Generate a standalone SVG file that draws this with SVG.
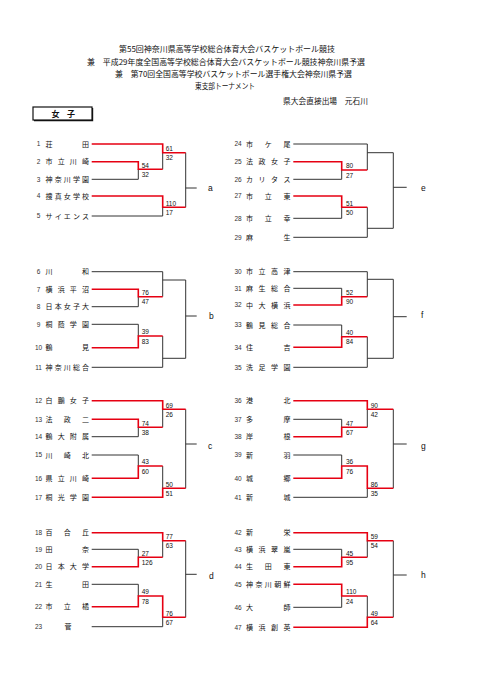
<svg xmlns="http://www.w3.org/2000/svg" width="481" height="680" viewBox="0 0 481 680">
<style>
.hd{font-family:"Noto Sans CJK JP",sans-serif;font-size:8px;fill:#111}
.nm{font-family:"Noto Sans CJK JP",sans-serif;font-size:7px;fill:#111}
.no{font-family:"Liberation Sans",sans-serif;font-size:6.5px;fill:#333;text-anchor:middle}
.sc{font-family:"Liberation Sans",sans-serif;font-size:6.5px;fill:#111}
.lb{font-family:"Liberation Sans",sans-serif;font-size:8.5px;fill:#111}
.ln{fill:none;stroke:#333;stroke-width:1}
.rd{fill:none;stroke:#e60012;stroke-width:1.6}
</style>
<rect width="481" height="680" fill="#fff"/>
<g id="header">
<text class="hd" x="119" y="52" textLength="216" lengthAdjust="spacingAndGlyphs">第55回神奈川県高等学校総合体育大会バスケットボール競技</text>
<text class="hd" x="87" y="65" textLength="278" lengthAdjust="spacingAndGlyphs">兼　平成29年度全国高等学校総合体育大会バスケットボール競技神奈川県予選</text>
<text class="hd" x="115" y="77" textLength="237" lengthAdjust="spacingAndGlyphs">兼　第70回全国高等学校バスケットボール選手権大会神奈川県予選</text>
<text class="hd" x="195" y="89" textLength="60" lengthAdjust="spacingAndGlyphs">東支部トーナメント</text>
<text class="hd" x="283" y="104" textLength="85" lengthAdjust="spacingAndGlyphs">県大会直接出場　元石川</text>
</g>
<g id="category">
<rect x="33" y="107" width="59" height="13" fill="#fff" stroke="#111" stroke-width="1.2"/>
<path d="M34 120.6H92.6V108" fill="none" stroke="#111" stroke-width="1.2"/>
<text class="hd" x="51.5 67" y="116.6" font-weight="bold">女子</text>
</g>
<g id="connectors">
<path class="ln" d="M91.7 179.3H138.3M138.3 169.3V179.3M162.7 152.7V169.3M91.7 216H162.7M162.7 207.3V216M185.7 152.7V207.3M185.7 188H196.7"/>
<path class="rd" d="M91.7 144H162.7V152.7H185.7M91.7 161.7H138.3V169.3H162.7M91.7 196H162.7V207.3H185.7"/>
<path class="ln" d="M293.3 144H367.3V170M367.3 152.7H393.3M293.3 179.3H341.7V170M293.3 218.3H341.7V207.3M293.3 237.3H367.3V207.3M367.3 228.3H393.3M393.3 152.7V228.3M393.3 187.3H406.7"/>
<path class="rd" d="M293.3 161.7H341.7V170H367.3M293.3 196H341.7V207.3H367.3"/>
<path class="ln" d="M91.7 271.7H162.7V296.7M162.7 280H185.7M91.7 306.7H138.3V296.7M91.7 324.3H138.3V336M91.7 367.3H162.7V336M162.7 358.3H185.7M185.7 280V358.3M185.7 316H196.7"/>
<path class="rd" d="M91.7 289.3H138.3V296.7H162.7M91.7 347.7H138.3V336H162.7"/>
<path class="ln" d="M293.3 271.7H367.3V296.7M367.3 279.3H393.3M293.3 288.3H341.7V296.7M293.3 325H341.7V336.7M293.3 367.3H367.3V336.7M367.3 358.3H393.3M393.3 279.3V358.3M393.3 316.7H406.7"/>
<path class="rd" d="M293.3 305H341.7V296.7H367.3M293.3 347.3H341.7V336.7H367.3"/>
<path class="ln" d="M162.7 409.3V427.3M91.7 436.7H138.3V427.3M91.7 455H138.3V466M162.7 466V488.3M185.7 409.3V488.3M185.7 444H196.7"/>
<path class="rd" d="M91.7 400.7H162.7V409.3H185.7M91.7 419.3H138.3V427.3H162.7M91.7 478.3H138.3V466H162.7M91.7 497.3H162.7V488.3H185.7"/>
<path class="ln" d="M293.3 419.3H341.7V427.3M367.3 409.3V427.3M293.3 455H341.7V466M293.3 497.3H367.3V488.3M393.3 409.3V488.3M393.3 444H406.7"/>
<path class="rd" d="M293.3 400.7H367.3V409.3H393.3M293.3 436.7H341.7V427.3H367.3M293.3 478.3H341.7V466H367.3V488.3H393.3"/>
<path class="ln" d="M91.7 549.3H138.3V557.3M162.7 540.7V557.3M91.7 584.3H138.3V596M91.7 626.7H162.7V617.3M185.7 540.7V617.3M185.7 574.3H196.7"/>
<path class="rd" d="M91.7 532.7H162.7V540.7H185.7M91.7 566.7H138.3V557.3H162.7M91.7 606.7H138.3V596H162.7V617.3H185.7"/>
<path class="ln" d="M293.3 549.3H341.7V557.3M367.3 540.7V557.3M293.3 607.3H341.7V596M367.3 596V617.3M393.3 540.7V617.3M393.3 575H406.7"/>
<path class="rd" d="M293.3 532.7H367.3V540.7H393.3M293.3 566.7H341.7V557.3H367.3M293.3 584.3H341.7V596H367.3M293.3 627.3H367.3V617.3H393.3"/>
</g>
<g id="scores">
<text class="sc" x="141.7" y="167.5">54</text><text class="sc" x="141.7" y="176.8">32</text>
<text class="sc" x="165.7" y="150.9">61</text><text class="sc" x="165.7" y="160.2">32</text>
<text class="sc" x="165.7" y="205.5">110</text><text class="sc" x="165.7" y="214.8">17</text>
<text class="sc" x="346" y="168.2">80</text><text class="sc" x="346" y="177.5">27</text>
<text class="sc" x="346" y="205.5">51</text><text class="sc" x="346" y="214.8">50</text>
<text class="sc" x="141.7" y="294.9">76</text><text class="sc" x="141.7" y="304.2">47</text>
<text class="sc" x="141.7" y="334.2">39</text><text class="sc" x="141.7" y="343.5">83</text>
<text class="sc" x="346" y="294.9">52</text><text class="sc" x="346" y="304.2">90</text>
<text class="sc" x="346" y="334.9">40</text><text class="sc" x="346" y="344.2">84</text>
<text class="sc" x="165.7" y="407.5">69</text><text class="sc" x="165.7" y="416.8">26</text>
<text class="sc" x="141.7" y="425.5">74</text><text class="sc" x="141.7" y="434.8">38</text>
<text class="sc" x="141.7" y="464.2">43</text><text class="sc" x="141.7" y="473.5">60</text>
<text class="sc" x="165.7" y="486.5">50</text><text class="sc" x="165.7" y="495.8">51</text>
<text class="sc" x="370.7" y="407.5">90</text><text class="sc" x="370.7" y="416.8">42</text>
<text class="sc" x="346" y="425.5">47</text><text class="sc" x="346" y="434.8">67</text>
<text class="sc" x="346" y="464.2">36</text><text class="sc" x="346" y="473.5">76</text>
<text class="sc" x="370.7" y="486.5">86</text><text class="sc" x="370.7" y="495.8">35</text>
<text class="sc" x="165.7" y="538.9">77</text><text class="sc" x="165.7" y="548.2">63</text>
<text class="sc" x="141.7" y="555.5">27</text><text class="sc" x="141.7" y="564.8">126</text>
<text class="sc" x="141.7" y="594.2">49</text><text class="sc" x="141.7" y="603.5">78</text>
<text class="sc" x="165.7" y="615.5">76</text><text class="sc" x="165.7" y="624.8">67</text>
<text class="sc" x="370.7" y="538.9">59</text><text class="sc" x="370.7" y="548.2">54</text>
<text class="sc" x="346" y="555.5">45</text><text class="sc" x="346" y="564.8">95</text>
<text class="sc" x="346" y="594.2">110</text><text class="sc" x="346" y="603.5">24</text>
<text class="sc" x="370.7" y="615.5">49</text><text class="sc" x="370.7" y="624.8">64</text>
</g>
<g id="team-1"><text class="no" x="38.5" y="146.3">1</text><text class="nm" x="45.5 82" y="146.5">荘田</text></g>
<g id="team-2"><text class="no" x="38.5" y="164">2</text><text class="nm" x="45.5 57.67 69.83 82" y="164.2">市立川崎</text></g>
<g id="team-3"><text class="no" x="38.5" y="181.6">3</text><text class="nm" x="45.5 54.63 63.75 72.88 82" y="181.8">神奈川学園</text></g>
<g id="team-4"><text class="no" x="38.5" y="198.3">4</text><text class="nm" x="45.5 54.63 63.75 72.88 82" y="198.5">捜真女学校</text></g>
<g id="team-5"><text class="no" x="38.5" y="218.3">5</text><text class="nm" x="45.5 54.63 63.75 72.88 82" y="218.5">サイエンス</text></g>
<g id="team-6"><text class="no" x="38.5" y="274">6</text><text class="nm" x="45.5 82" y="274.2">川和</text></g>
<g id="team-7"><text class="no" x="38.5" y="291.6">7</text><text class="nm" x="45.5 57.67 69.83 82" y="291.8">横浜平沼</text></g>
<g id="team-8"><text class="no" x="38.5" y="309">8</text><text class="nm" x="45.5 54.63 63.75 72.88 82" y="309.2">日本女子大</text></g>
<g id="team-9"><text class="no" x="38.5" y="326.6">9</text><text class="nm" x="45.5 57.67 69.83 82" y="326.8">桐蔭学園</text></g>
<g id="team-10"><text class="no" x="38.5" y="350">10</text><text class="nm" x="45.5 82" y="350.2">鶴見</text></g>
<g id="team-11"><text class="no" x="38.5" y="369.6">11</text><text class="nm" x="45.5 54.63 63.75 72.88 82" y="369.8">神奈川総合</text></g>
<g id="team-12"><text class="no" x="38.5" y="403">12</text><text class="nm" x="45.5 57.67 69.83 82" y="403.2">白鵬女子</text></g>
<g id="team-13"><text class="no" x="38.5" y="421.6">13</text><text class="nm" x="45.5 63.75 82" y="421.8">法政二</text></g>
<g id="team-14"><text class="no" x="38.5" y="439">14</text><text class="nm" x="45.5 57.67 69.83 82" y="439.2">鶴大附属</text></g>
<g id="team-15"><text class="no" x="38.5" y="457.3">15</text><text class="nm" x="45.5 63.75 82" y="457.5">川崎北</text></g>
<g id="team-16"><text class="no" x="38.5" y="480.6">16</text><text class="nm" x="45.5 57.67 69.83 82" y="480.8">県立川崎</text></g>
<g id="team-17"><text class="no" x="38.5" y="499.6">17</text><text class="nm" x="45.5 57.67 69.83 82" y="499.8">桐光学園</text></g>
<g id="team-18"><text class="no" x="38.5" y="535">18</text><text class="nm" x="45.5 63.75 82" y="535.2">百合丘</text></g>
<g id="team-19"><text class="no" x="38.5" y="551.6">19</text><text class="nm" x="45.5 82" y="551.8">田奈</text></g>
<g id="team-20"><text class="no" x="38.5" y="569">20</text><text class="nm" x="45.5 57.67 69.83 82" y="569.2">日本大学</text></g>
<g id="team-21"><text class="no" x="38.5" y="586.6">21</text><text class="nm" x="45.5 82" y="586.8">生田</text></g>
<g id="team-22"><text class="no" x="38.5" y="609">22</text><text class="nm" x="45.5 63.75 82" y="609.2">市立橘</text></g>
<g id="team-23"><text class="no" x="38.5" y="629">23</text><text class="nm" x="64.5" y="629.2">菅</text></g>
<g id="team-24"><text class="no" x="238" y="146.3">24</text><text class="nm" x="246 264.75 283.5" y="146.5">市ケ尾</text></g>
<g id="team-25"><text class="no" x="238" y="164">25</text><text class="nm" x="246 258.5 271 283.5" y="164.2">法政女子</text></g>
<g id="team-26"><text class="no" x="238" y="181.6">26</text><text class="nm" x="246 258.5 271 283.5" y="181.8">カリタス</text></g>
<g id="team-27"><text class="no" x="238" y="198.3">27</text><text class="nm" x="246 264.75 283.5" y="198.5">市立東</text></g>
<g id="team-28"><text class="no" x="238" y="220.6">28</text><text class="nm" x="246 264.75 283.5" y="220.8">市立幸</text></g>
<g id="team-29"><text class="no" x="238" y="239.6">29</text><text class="nm" x="246 283.5" y="239.8">麻生</text></g>
<g id="team-30"><text class="no" x="238" y="274">30</text><text class="nm" x="246 258.5 271 283.5" y="274.2">市立高津</text></g>
<g id="team-31"><text class="no" x="238" y="290.6">31</text><text class="nm" x="246 258.5 271 283.5" y="290.8">麻生総合</text></g>
<g id="team-32"><text class="no" x="238" y="307.3">32</text><text class="nm" x="246 258.5 271 283.5" y="307.5">中大横浜</text></g>
<g id="team-33"><text class="no" x="238" y="327.3">33</text><text class="nm" x="246 258.5 271 283.5" y="327.5">鶴見総合</text></g>
<g id="team-34"><text class="no" x="238" y="349.6">34</text><text class="nm" x="246 283.5" y="349.8">住吉</text></g>
<g id="team-35"><text class="no" x="238" y="369.6">35</text><text class="nm" x="246 258.5 271 283.5" y="369.8">洗足学園</text></g>
<g id="team-36"><text class="no" x="238" y="403">36</text><text class="nm" x="246 283.5" y="403.2">港北</text></g>
<g id="team-37"><text class="no" x="238" y="421.6">37</text><text class="nm" x="246 283.5" y="421.8">多摩</text></g>
<g id="team-38"><text class="no" x="238" y="439">38</text><text class="nm" x="246 283.5" y="439.2">岸根</text></g>
<g id="team-39"><text class="no" x="238" y="457.3">39</text><text class="nm" x="246 283.5" y="457.5">新羽</text></g>
<g id="team-40"><text class="no" x="238" y="480.6">40</text><text class="nm" x="246 283.5" y="480.8">城郷</text></g>
<g id="team-41"><text class="no" x="238" y="499.6">41</text><text class="nm" x="246 283.5" y="499.8">新城</text></g>
<g id="team-42"><text class="no" x="238" y="535">42</text><text class="nm" x="246 283.5" y="535.2">新栄</text></g>
<g id="team-43"><text class="no" x="238" y="551.6">43</text><text class="nm" x="246 258.5 271 283.5" y="551.8">横浜翠嵐</text></g>
<g id="team-44"><text class="no" x="238" y="569">44</text><text class="nm" x="246 264.75 283.5" y="569.2">生田東</text></g>
<g id="team-45"><text class="no" x="238" y="586.6">45</text><text class="nm" x="246 255.38 264.75 274.13 283.5" y="586.8">神奈川朝鮮</text></g>
<g id="team-46"><text class="no" x="238" y="609.6">46</text><text class="nm" x="246 283.5" y="609.8">大師</text></g>
<g id="team-47"><text class="no" x="238" y="629.6">47</text><text class="nm" x="246 258.5 271 283.5" y="629.8">横浜創英</text></g>
<g id="block-a"><text class="lb" x="208" y="191">a</text></g>
<g id="block-b"><text class="lb" x="209" y="319">b</text></g>
<g id="block-c"><text class="lb" x="208" y="449">c</text></g>
<g id="block-d"><text class="lb" x="209" y="579">d</text></g>
<g id="block-e"><text class="lb" x="421" y="191">e</text></g>
<g id="block-f"><text class="lb" x="421" y="318">f</text></g>
<g id="block-g"><text class="lb" x="421" y="449">g</text></g>
<g id="block-h"><text class="lb" x="421" y="578">h</text></g>
</svg>
